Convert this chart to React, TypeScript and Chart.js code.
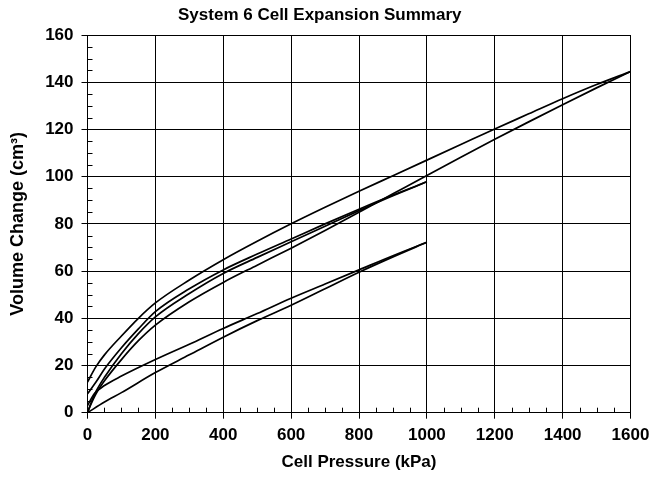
import React, { useEffect, useRef } from "react";
import { Chart, registerables } from "chart.js";

Chart.register(...registerables);

const chartTitle = "System 6 Cell Expansion Summary";
const xAxisTitle = "Cell Pressure (kPa)";
const yAxisTitle = "Volume Change (cm³)";

const xMin = 0;
const xMax = 1600;
const xMajorStep = 200;
const xMinorStep = 50;
const yMin = 0;
const yMax = 160;
const yMajorStep = 20;
const yMinorStep = 5;

// Big loop (to 1600 kPa): loading path
const bigLoadPressure = [0, 10, 25, 50, 100, 150, 200, 300, 400, 500, 600, 700, 800, 900, 1000, 1100, 1200, 1300, 1400, 1500, 1600];
const bigLoadVolume = [0, 3.5, 8, 13.5, 22.5, 30.5, 37.1, 47, 55.2, 62.5, 69.7, 77.2, 84.9, 92.7, 100.5, 108.2, 115.8, 123.2, 130.5, 137.6, 144.5];

// Big loop: unloading path
const bigUnloadPressure = [0, 25, 50, 100, 150, 200, 300, 400, 500, 600, 700, 800, 900, 1000, 1100, 1200, 1300, 1400, 1500, 1600];
const bigUnloadVolume = [13, 19.5, 24.5, 32.5, 40, 46.5, 56.2, 64.8, 72.6, 80, 87, 93.8, 100.4, 107, 113.6, 120.2, 126.6, 133, 139, 144.5];

// Middle loop (to 1000 kPa): loading path
const midLoadPressure = [0, 10, 25, 50, 100, 150, 200, 300, 400, 500, 600, 700, 800, 900, 1000];
const midLoadVolume = [0, 4, 9, 15, 25, 33.5, 40.6, 50.5, 59, 65.8, 72.4, 79, 85.6, 91.9, 97.8];

// Middle loop: unloading path
const midUnloadPressure = [0, 25, 50, 100, 150, 200, 300, 400, 500, 600, 700, 800, 900, 1000];
const midUnloadVolume = [8, 13, 18.5, 27.5, 35.5, 42.8, 52.5, 60.5, 67.2, 73.6, 80, 86.2, 92.2, 97.8];

// Lower loop (to 1000 kPa): loading path
const lowLoadPressure = [0, 50, 100, 200, 300, 400, 500, 600, 700, 800, 900, 1000];
const lowLoadVolume = [0, 4.5, 8.5, 17, 24.5, 32, 39, 45.5, 52.5, 59.5, 66, 72.2];

// Lower loop: unloading path
const lowUnloadPressure = [0, 20, 50, 100, 200, 300, 400, 500, 600, 700, 800, 900, 1000];
const lowUnloadVolume = [3, 8, 11.5, 15.5, 22.5, 29, 35.7, 42, 48.5, 54.5, 60.5, 66.5, 72.2];

const seriesList = [
  { label: "Big loop loading", xs: bigLoadPressure, ys: bigLoadVolume },
  { label: "Big loop unloading", xs: bigUnloadPressure, ys: bigUnloadVolume },
  { label: "Middle loop loading", xs: midLoadPressure, ys: midLoadVolume },
  { label: "Middle loop unloading", xs: midUnloadPressure, ys: midUnloadVolume },
  { label: "Lower loop loading", xs: lowLoadPressure, ys: lowLoadVolume },
  { label: "Lower loop unloading", xs: lowUnloadPressure, ys: lowUnloadVolume },
];

const FONT_FAMILY = "'Liberation Sans', Arial, Helvetica, sans-serif";

const minorTickPlugin = {
  id: "minorTicks",
  afterDraw(chart: any) {
    const { ctx, chartArea, scales } = chart;
    const xs = scales.x;
    const ys = scales.y;
    ctx.save();
    ctx.strokeStyle = "#000";
    ctx.lineWidth = 1;
    ctx.beginPath();
    for (let v = xMin; v <= xMax; v += xMinorStep) {
      if (v % xMajorStep === 0) continue;
      const px = Math.round(xs.getPixelForValue(v)) + 0.5;
      ctx.moveTo(px, chartArea.bottom);
      ctx.lineTo(px, chartArea.bottom - 5);
    }
    for (let v = yMin; v <= yMax; v += yMinorStep) {
      if (v % yMajorStep === 0) continue;
      const py = Math.round(ys.getPixelForValue(v)) + 0.5;
      ctx.moveTo(chartArea.left, py);
      ctx.lineTo(chartArea.left + 5, py);
    }
    ctx.stroke();
    ctx.restore();
  },
};

export default function App() {
  const canvasRef = useRef<HTMLCanvasElement | null>(null);

  useEffect(() => {
    document.body.style.margin = "0";
    const canvas = canvasRef.current;
    if (!canvas) return;

    const datasets = seriesList.map((s) => ({
      label: s.label,
      data: s.xs.map((x, i) => ({ x, y: s.ys[i] })),
      borderColor: "#000",
      backgroundColor: "#000",
      borderWidth: 1.7,
      pointRadius: 0,
      fill: false,
      cubicInterpolationMode: "monotone" as const,
    }));

    const chart = new Chart(canvas, {
      type: "line",
      data: { datasets },
      plugins: [minorTickPlugin],
      options: {
        responsive: false,
        animation: false,
        layout: { padding: { left: 0, right: 9.5, top: 0, bottom: 0 } },
        plugins: {
          legend: { display: false },
          tooltip: { enabled: false },
          title: {
            display: true,
            text: chartTitle,
            color: "#000",
            font: { family: FONT_FAMILY, size: 17, weight: "bold" },
            padding: { top: 5, bottom: 9.6 },
          },
        },
        scales: {
          x: {
            type: "linear",
            min: xMin,
            max: xMax,
            ticks: {
              stepSize: xMajorStep,
              color: "#000",
              font: { family: FONT_FAMILY, size: 17, weight: "bold" },
              padding: 6,
              maxRotation: 0,
              callback: (value: any) => String(value),
            },
            grid: { color: "#000", lineWidth: 1, tickLength: 6, drawTicks: true },
            border: { color: "#000", width: 1 },
            title: {
              display: true,
              text: xAxisTitle,
              color: "#000",
              font: { family: FONT_FAMILY, size: 17, weight: "bold" },
              padding: { top: 4, bottom: 4 },
            },
            afterFit: (scale: any) => {
              scale.height = 64.3;
              scale.paddingRight = 18.5;
            },
          },
          y: {
            type: "linear",
            min: yMin,
            max: yMax,
            ticks: {
              stepSize: yMajorStep,
              color: "#000",
              font: { family: FONT_FAMILY, size: 17, weight: "bold" },
              padding: 8,
              callback: (value: any) => String(value),
            },
            grid: { color: "#000", lineWidth: 1, tickLength: 6, drawTicks: true },
            border: { color: "#000", width: 1 },
            title: {
              display: true,
              text: yAxisTitle,
              color: "#000",
              font: { family: FONT_FAMILY, size: 18, weight: "bold" },
              padding: { top: 7, bottom: 0 },
            },
            afterFit: (scale: any) => {
              scale.width = 87.5;
            },
          },
        },
      },
    });

    return () => {
      chart.destroy();
    };
  }, []);

  return (
    <div style={{ width: 649, height: 477 }}>
      <canvas ref={canvasRef} width={649} height={477} style={{ display: "block" }} />
    </div>
  );
}
